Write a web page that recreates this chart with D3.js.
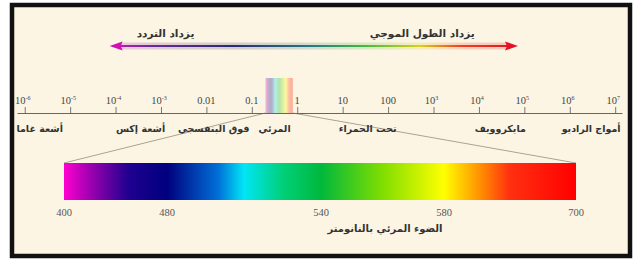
<!DOCTYPE html>
<html>
<head>
<meta charset="utf-8">
<script src="https://cdn.jsdelivr.net/npm/d3@7"></script>
<style>
  body { margin: 0; background: #fff; }
  svg { display: block; }
</style>
</head>
<body>
<div id="chart"></div>
<script>
// spectrum axis (micrometres, log scale)
const tickExps = [-6, -5, -4, -3, -2, -1, 0, 1, 2, 3, 4, 5, 6, 7];
const tickBase = ["10", "10", "10", "10", "0.01", "0.1", "1", "10", "100", "10", "10", "10", "10", "10"];
const tickSup = ["-6", "-5", "-4", "-3", "", "", "", "", "", "3", "4", "5", "6", "7"];

// region names under the axis, centre given as exponent of 10
const regionNames = ["أشعة غاما", "أشعة إكس", "فوق البنفسجي", "المرئي", "تحت الحمراء", "مايكروويف", "أمواج الراديو"];
const regionExps = [-5.67, -3.45, -1.84, -0.5, 1.55, 4.47, 6.47];

// visible band on the big axis (micrometres)
const visibleBand = [0.2, 0.8];

// arrow across the top (exponents) and its labels
const arrowExps = [-4.13, 4.86];
const arrowLabels = ["يزداد التردد", "يزداد الطول الموجي"];
const arrowLabelExps = [-2.9, 2.75];

// visible spectrum in nanometres
const specTicks = [400, 480, 540, 580, 700];
const specStops = [400, 420, 450, 480, 500, 510, 525, 540, 560, 580, 610, 640, 700];
const specColors = ["#ff00d0", "#a000b0", "#200090", "#00007e", "#0070d8", "#00e6f6", "#00d07a", "#00b83c",
                    "#80de00", "#ffff00", "#ff9a00", "#ff3010", "#ff0000"];
const specTitle = "الضوء المرئي بالنانومتر";

const W = 642, H = 262;
const arabic = "'DejaVu Sans', sans-serif";
const serif = "'Liberation Serif', 'DejaVu Serif', serif";

const svg = d3.select("#chart").append("svg")
  .attr("width", W).attr("height", H);

const defs = svg.append("defs");

// frame
svg.append("rect")
  .attr("x", 14).attr("y", 7).attr("width", 618).attr("height", 251)
  .attr("fill", "#777").attr("opacity", 0.35);
svg.append("rect")
  .attr("x", 12).attr("y", 5).attr("width", 618).attr("height", 251)
  .attr("fill", "#fcf5e3").attr("stroke", "#111").attr("stroke-width", 4.5);

// scales
const x = d3.scaleLog().domain([Math.pow(10, -6.17), Math.pow(10, 7.15)]).range([17, 622]);
const s = d3.scaleLinear().domain(specTicks).range([64, 167, 321, 444, 576]);

const axisY = 113;

// gradients
const specGrad = defs.append("linearGradient").attr("id", "specGrad")
  .attr("gradientUnits", "userSpaceOnUse")
  .attr("x1", s(400)).attr("x2", s(700)).attr("y1", 0).attr("y2", 0);
specGrad.selectAll("stop").data(specStops).join("stop")
  .attr("offset", d => (s(d) - s(400)) / (s(700) - s(400)))
  .attr("stop-color", (d, i) => specColors[i]);

const bandGrad = defs.append("linearGradient").attr("id", "bandGrad");
bandGrad.selectAll("stop").data(specStops).join("stop")
  .attr("offset", d => (s(d) - s(400)) / (s(700) - s(400)))
  .attr("stop-color", (d, i) => specColors[i]);

const ax0 = x(Math.pow(10, arrowExps[0])), ax1 = x(Math.pow(10, arrowExps[1]));
const arrowY = 46;

// userSpaceOnUse, a flat line has no bbox height
const arrowGrad = defs.append("linearGradient").attr("id", "arrowGrad")
  .attr("gradientUnits", "userSpaceOnUse")
  .attr("x1", ax0).attr("x2", ax1).attr("y1", 0).attr("y2", 0);
const arrowStops = [[0, "#d018b8"], [0.1, "#6a2a9a"], [0.3, "#2a2a70"], [0.5, "#2a7a80"],
                    [0.62, "#40b840"], [0.76, "#d8d020"], [0.86, "#f04020"], [1, "#e01020"]];
arrowGrad.selectAll("stop").data(arrowStops).join("stop")
  .attr("offset", d => d[0]).attr("stop-color", d => d[1]);

// top arrow
svg.append("rect")
  .attr("x", ax0 + 8).attr("y", arrowY - 3.5).attr("width", ax1 - ax0 - 16).attr("height", 7)
  .attr("fill", "url(#arrowGrad)").attr("opacity", 0.2);
svg.append("line")
  .attr("x1", ax0 + 8).attr("x2", ax1 - 8).attr("y1", arrowY).attr("y2", arrowY)
  .attr("stroke", "url(#arrowGrad)").attr("stroke-width", 1.8);
svg.append("path")
  .attr("d", `M${ax0},${arrowY} L${ax0 + 13},${arrowY - 4.5} L${ax0 + 11},${arrowY} L${ax0 + 13},${arrowY + 4.5} Z`)
  .attr("fill", "#d010b4");
svg.append("path")
  .attr("d", `M${ax1},${arrowY} L${ax1 - 13},${arrowY - 4.5} L${ax1 - 11},${arrowY} L${ax1 - 13},${arrowY + 4.5} Z`)
  .attr("fill", "#e81028");

svg.selectAll(".arrowLabel").data(arrowLabels).join("text")
  .attr("class", "arrowLabel")
  .attr("x", (d, i) => x(Math.pow(10, arrowLabelExps[i])))
  .attr("y", 37)
  .attr("text-anchor", "middle")
  .attr("direction", "rtl")
  .attr("font-family", arabic).attr("font-size", 10.5).attr("font-weight", "bold")
  .attr("fill", "#333")
  .text(d => d);

// visible band on the axis
svg.append("rect")
  .attr("x", x(visibleBand[0])).attr("y", 78)
  .attr("width", x(visibleBand[1]) - x(visibleBand[0])).attr("height", axisY - 78)
  .attr("fill", "url(#bandGrad)").attr("opacity", 0.3);

// connector lines to the big spectrum
const specTop = 163, specBottom = 200;
svg.append("line")
  .attr("x1", x(visibleBand[0])).attr("y1", axisY).attr("x2", s(400)).attr("y2", specTop)
  .attr("stroke", "#aaa395").attr("stroke-width", 1);
svg.append("line")
  .attr("x1", x(visibleBand[1])).attr("y1", axisY).attr("x2", s(700)).attr("y2", specTop)
  .attr("stroke", "#aaa395").attr("stroke-width", 1);

// main axis
const axisG = svg.append("g")
  .attr("transform", `translate(0,${axisY})`)
  .call(d3.axisTop(x)
    .tickValues(tickExps.map(e => Math.pow(10, e)))
    .tickSize(6).tickSizeOuter(0)
    .tickFormat(""));
axisG.select(".domain").attr("stroke", "#666");
axisG.selectAll(".tick line").attr("stroke", "#777");

const tickText = svg.selectAll(".tickLabel").data(tickExps).join("text")
  .attr("class", "tickLabel")
  .attr("x", (d, i) => x(Math.pow(10, d)) + (tickSup[i] ? -2 : 0))
  .attr("y", 104)
  .attr("text-anchor", "middle")
  .attr("font-family", serif).attr("font-size", 10.5)
  .attr("fill", "#444");
tickText.append("tspan").text((d, i) => tickBase[i]);
tickText.append("tspan")
  .attr("dy", -4).attr("font-size", 6)
  .text((d, i) => tickSup[i]);

// region names
svg.selectAll(".region").data(regionNames).join("text")
  .attr("class", "region")
  .attr("x", (d, i) => x(Math.pow(10, regionExps[i])))
  .attr("y", 132)
  .attr("text-anchor", "middle")
  .attr("direction", "rtl")
  .attr("font-family", arabic).attr("font-size", 9.5).attr("font-weight", "bold")
  .attr("fill", "#333")
  .text(d => d);

// big visible spectrum
svg.append("rect")
  .attr("x", s(400)).attr("y", specTop)
  .attr("width", s(700) - s(400)).attr("height", specBottom - specTop)
  .attr("fill", "url(#specGrad)");

svg.selectAll(".specTick").data(specTicks).join("text")
  .attr("class", "specTick")
  .attr("x", d => s(d))
  .attr("y", 216)
  .attr("text-anchor", "middle")
  .attr("font-family", serif).attr("font-size", 10.5)
  .attr("fill", "#555")
  .text(d => d);

svg.append("text")
  .attr("x", 385).attr("y", 232)
  .attr("text-anchor", "middle")
  .attr("direction", "rtl")
  .attr("font-family", arabic).attr("font-size", 10).attr("font-weight", "bold")
  .attr("fill", "#333")
  .text(specTitle);
</script>
</body>
</html>
